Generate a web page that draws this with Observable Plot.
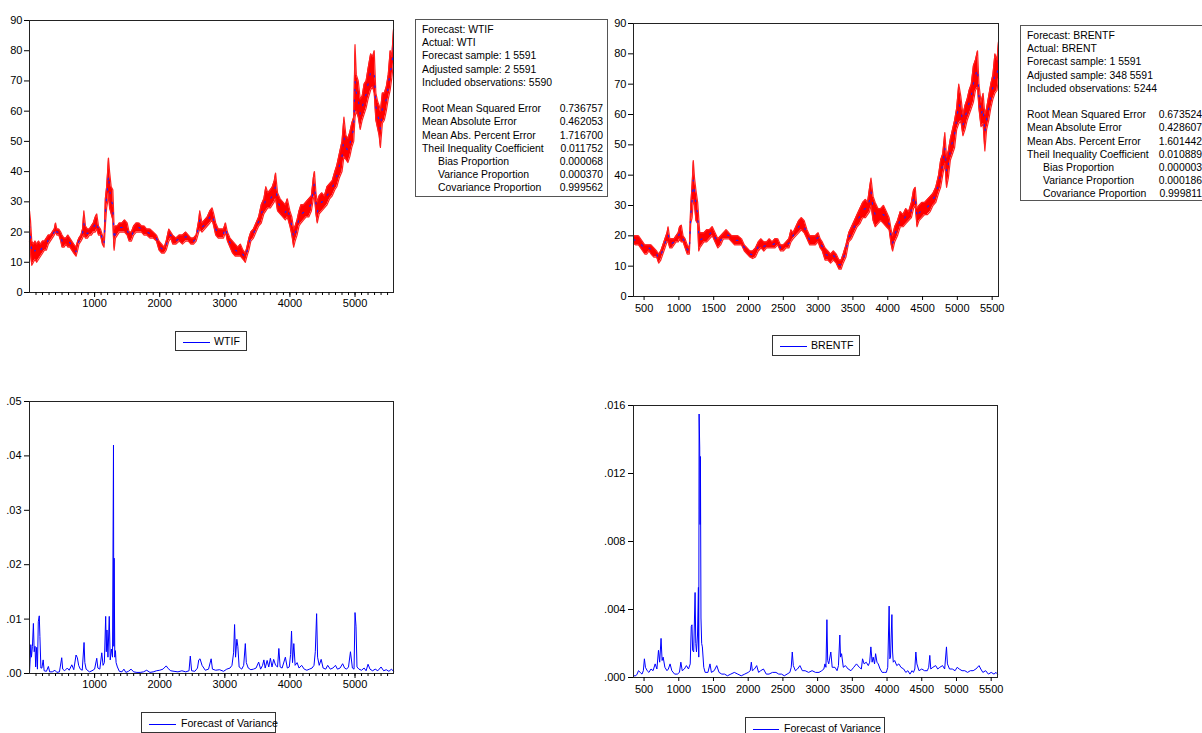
<!DOCTYPE html>
<html>
<head>
<meta charset="utf-8">
<script src="https://cdn.jsdelivr.net/npm/d3@7"></script>
<script src="https://cdn.jsdelivr.net/npm/@observablehq/plot@0.6"></script>
<style>
  html, body { margin: 0; padding: 0; background: #fff; }
  body { width: 1202px; height: 733px; overflow: hidden; position: relative; font-family: "Liberation Sans", Arial, sans-serif; color: #000; }
  .pane { position: absolute; }
  .stat { position: absolute; border: 1px solid #555; background: #fff; font-size: 10.4px; line-height: 13.2px; box-sizing: border-box; padding: 3px 0 0 6px; white-space: nowrap; }
  .stat .row { position: relative; height: 13.2px; }
  .stat .row .v { position: absolute; right: 0; top: 0; }
  .stat .ind { padding-left: 16px; }
  .legend { position: absolute; border: 1px solid #333; box-sizing: border-box; background: #fff; font-size: 10.6px; white-space: nowrap; }
  .legend .sw { position: absolute; height: 0; border-top: 1px solid #0000ff; }
  .legend .lab { position: absolute; }
</style>
</head>
<body>
<div id="p1" class="pane" style="left:0;top:0"></div>
<div id="p2" class="pane" style="left:600px;top:0"></div>
<div id="p3" class="pane" style="left:0;top:390px"></div>
<div id="p4" class="pane" style="left:600px;top:395px"></div>
<div id="s1"></div>
<div id="s2"></div>
<div id="legs"></div>
<script>
// ---------- DATA ----------
// WTI forecast band: [observation, lower, upper]
const wtiBand = [
[0,17,27],[15,13,24],[35,9,17],[60,10,16],[85,11,17],[110,10,16],[140,11,17],[170,12,16],[200,13,17],[230,14,17],
[260,14,18],[290,16,19],[320,17,19],[350,18,20],[380,19,21],[400,20,23],[420,19,21],[450,19,21],[480,17,20],[500,15,19],
[530,15,18],[560,16,18],[590,15,19],[620,15,18],[650,14,17],[680,13,16],[715,12,15],[740,14,17],[760,16,18],[790,17,19],
[815,18,21],[835,19,27],[860,18,22],[890,18,21],[920,19,21],[950,19,22],[980,20,23],[1010,20,25],[1033,21,26],[1060,19,22],
[1090,19,21],[1120,16,19],[1145,15,17],[1165,22,31],[1185,28,35],[1200,30,40],[1213,33,44.5],[1230,28,40],[1255,26,35],[1280,24,34],
[1290,18,28],[1300,14,21],[1320,18,22],[1350,19,22],[1380,20,23],[1420,20,23],[1460,20,24],[1500,19,23],[1530,17,20],[1565,17,20],
[1600,19,22],[1640,20,23],[1680,20,23],[1720,20,22],[1760,19,22],[1800,19,21],[1850,18,21],[1900,18,20],[1950,17,19],[1990,14,17],
[2030,13,16],[2070,13,15],[2100,14,17],[2140,17,21],[2170,18,20],[2200,16,19],[2250,16,18],[2300,17,19],[2350,16,19],[2400,17,20],
[2440,17,19],[2480,16,18],[2520,16,18],[2560,17,19],[2600,20,24],[2615,21,27],[2650,20,23],[2690,21,24],[2730,22,25],[2770,23,27],
[2805,24,28],[2830,22,26],[2860,19,23],[2900,18,21],[2940,18,21],[2980,18,21],[3010,20,23],[3040,17,20],[3080,15,18],[3120,13,17],
[3160,12,16],[3200,12,15],[3240,12,16],[3280,11,14],[3315,10,13],[3340,12,15],[3370,14,18],[3400,17,20],[3440,18,21],[3480,20,23],
[3520,22,25],[3560,23,29],[3600,26,31],[3630,27,35],[3660,28,33],[3700,28,34],[3730,29,35],[3760,30,37],[3780,31,39.5],[3810,27,33],
[3850,26,31],[3890,25,30],[3930,24,29],[3960,25,31],[4000,22,27],[4030,19,25],[4058,15,21],[4080,17,22],[4110,19,24],[4140,22,27],
[4170,23,29],[4210,24,29],[4250,25,30],[4290,25,31],[4330,27,32],[4360,31,38],[4377,32,40],[4400,26,33],[4420,23,30],[4450,26,32],
[4490,27,33],[4530,28,32],[4570,29,35],[4610,31,36],[4650,32,37],[4690,34,40],[4720,35,42],[4760,38,46],[4800,40,50],[4830,45,58],
[4860,44,52],[4890,43,51],[4920,45,53],[4950,48,56],[4980,50,58],[5000,58,82],[5020,60,72],[5050,58,70],[5080,54,64],[5110,57,65],
[5140,59,69],[5170,61,70],[5200,64,74],[5240,67,79],[5270,68,78],[5295,66,80],[5320,57,66],[5350,54,63],[5370,52,62],[5390,48,60],
[5420,56,66],[5450,57,66],[5480,60,68],[5510,64,72],[5540,67,80],[5565,71,78],[5591,76,87]
];
// Brent forecast band: [observation, lower, upper]
const brentBand = [
[348,17.5,20],[380,17,20],[420,17,20],[450,16,19],[480,15,18],[510,14,17],[540,14,17],[570,15,17],[600,14,17],[640,13,16],
[680,13,15],[710,11,14],[740,12,15],[770,14,17],[800,16,19],[830,18,21],[845,18,23],[870,16,19],[900,16,19],[930,17,19],
[960,18,20],[990,18,21],[1010,19,23],[1035,18,23.5],[1060,18,20],[1090,16,19],[1120,14,17],[1150,14,16],[1170,24,30],[1190,26,37],
[1207,32,44.8],[1225,30,39],[1245,25,35],[1270,24,31],[1285,15,26],[1300,16,21],[1330,17,21],[1360,18,21],[1400,18,22],[1440,19,22],
[1480,20,23],[1520,18,21],[1560,16,19],[1600,17,20],[1640,19,21],[1680,19,22],[1720,19,21],[1760,18,20],[1800,17,20],[1850,17,20],
[1900,17,19],[1940,15,17],[1980,14,16],[2020,13,15],[2060,12.5,15],[2100,13,16],[2140,15,18],[2180,16,19],[2220,15,18],[2260,16,18],
[2300,16,19],[2340,16,18],[2380,16,19],[2420,17,19],[2460,15,17],[2500,15,17],[2540,16,18],[2580,16,19],[2610,18,22],[2640,19,21],
[2680,20,23],[2720,21,25],[2760,22,26],[2800,21,25],[2840,19,22],[2880,17,20],[2920,17,20],[2960,17,20],[3000,18,21],[3030,16,19],
[3060,15,18],[3100,12,16],[3140,12,15],[3180,11,14],[3220,12,15],[3260,11,14],[3300,9,12],[3330,9,12],[3360,11,14],[3400,13,17],
[3440,18,21],[3480,19,23],[3520,21,25],[3560,23,27],[3600,24,29],[3640,26,31],[3680,26,32],[3710,27,31],[3740,28,36],[3760,30,39],
[3790,25,33],[3820,23,31],[3860,24,29],[3900,25,29],[3940,24,30],[3980,23,28],[4020,22,26],[4050,17,22],[4070,15,20],[4100,18,23],
[4140,20,25],[4180,23,28],[4220,23,27],[4260,24,29],[4300,25,28],[4340,26,31],[4370,29,35],[4395,30,36],[4420,23,29],[4450,25,30],
[4490,26,31],[4530,27,31],[4570,27,32],[4610,28,33],[4650,30,34],[4690,31,36],[4730,34,40],[4760,36,45],[4790,40,47],[4820,44,54],
[4845,36,46],[4870,39,48],[4900,45,52],[4930,47,55],[4960,49,58],[4990,55,62],[5020,57,70],[5050,58,66],[5080,53,60],[5110,55,63],
[5140,58,65],[5170,60,68],[5200,62,70],[5230,64,76],[5260,68,78],[5290,69,81],[5310,62,70],[5340,56,64],[5370,57,67],[5395,48,60],
[5420,55,62],[5450,58,66],[5480,62,70],[5510,65,73],[5540,67,80],[5570,68,78],[5591,72,84]
];
// WTI forecast of variance: [observation, value]
const wtiVar = [
[1,.0003],[10,.0025],[20,.0053],[30,.0030],[45,.0050],[60,.0092],[72,.0040],[85,.0050],[95,.0012],[110,.0048],
[122,.0008],[135,.0095],[150,.0106],[160,.0068],[175,.0010],[190,.0010],[210,.0025],[225,.0005],[260,.0004],[290,.0013],
[310,.0003],[350,.0003],[390,.0006],[420,.0002],[460,.0003],[495,.0029],[510,.0008],[540,.0005],[580,.0010],[610,.0006],
[650,.0016],[680,.0007],[715,.0034],[735,.0029],[755,.0015],[780,.0008],[810,.0006],[838,.0057],[850,.0020],[870,.0008],
[920,.0003],[960,.0005],[1000,.0008],[1033,.0028],[1050,.0010],[1080,.0008],[1110,.0038],[1130,.0015],[1150,.0020],[1170,.0105],
[1180,.0040],[1190,.0080],[1205,.0030],[1225,.0105],[1240,.0025],[1258,.0045],[1275,.0030],[1290,.0420],[1295,.0050],[1300,.0212],
[1310,.0030],[1320,.0042],[1330,.0020],[1350,.0012],[1380,.0004],[1420,.0003],[1450,.0008],[1480,.0002],[1520,.0004],[1560,.0008],
[1600,.0003],[1650,.0002],[1700,.0002],[1750,.0003],[1800,.0006],[1850,.0002],[1900,.0003],[1950,.0005],[2000,.0006],[2050,.0008],
[2100,.0014],[2130,.0009],[2170,.0005],[2220,.0004],[2280,.0003],[2340,.0005],[2400,.0003],[2450,.0005],[2470,.0032],[2490,.0005],
[2540,.0004],[2580,.0010],[2600,.0025],[2620,.0027],[2650,.0015],[2700,.0006],[2750,.0008],[2790,.0027],[2810,.0008],[2860,.0006],
[2920,.0007],[2980,.0004],[3030,.0008],[3080,.0010],[3110,.0015],[3135,.0038],[3150,.0090],[3165,.0030],[3185,.0063],[3200,.0050],
[3220,.0012],[3260,.0008],[3290,.0015],[3315,.0055],[3330,.0020],[3360,.0010],[3400,.0007],[3440,.0008],[3480,.0010],[3520,.0021],
[3550,.0008],[3580,.0015],[3600,.0025],[3620,.0010],[3650,.0024],[3675,.0012],[3700,.0028],[3725,.0012],[3750,.0026],[3780,.0015],
[3810,.0012],[3830,.0046],[3850,.0012],[3880,.0010],[3930,.0030],[3960,.0010],[3990,.0012],[4010,.0035],[4025,.0078],[4040,.0020],
[4060,.0055],[4080,.0015],[4110,.0020],[4140,.0010],[4180,.0015],[4220,.0008],[4260,.0006],[4300,.0008],[4340,.0010],[4370,.0015],
[4390,.0040],[4410,.0110],[4425,.0030],[4450,.0015],[4480,.0026],[4510,.0010],[4550,.0008],[4580,.0015],[4620,.0008],[4660,.0010],
[4700,.0015],[4730,.0008],[4770,.0010],[4810,.0018],[4840,.0010],[4870,.0008],[4900,.0012],[4930,.0040],[4960,.0010],[4985,.0008],
[5000,.0112],[5015,.0087],[5030,.0012],[5060,.0008],[5100,.0006],[5140,.0010],[5170,.0005],[5200,.0017],[5230,.0008],[5270,.0005],
[5310,.0008],[5350,.0005],[5400,.0012],[5440,.0005],[5480,.0007],[5520,.0004],[5560,.0008],[5591,.0004]
];
// Brent forecast of variance: [observation, value]
const brentVar = [
[348,.0001],[380,.0001],[400,.0002],[420,.0004],[445,.0003],[470,.0002],[490,.0004],[505,.0011],[520,.0006],[545,.0004],
[570,.0003],[600,.0005],[630,.0004],[660,.0008],[685,.0005],[708,.0016],[725,.0009],[745,.0023],[760,.0010],[775,.0012],
[800,.0006],[830,.0004],[850,.0005],[875,.0008],[900,.0004],[940,.0002],[980,.0002],[1010,.0003],[1030,.0009],[1050,.0004],
[1080,.0005],[1110,.0007],[1140,.0005],[1165,.0008],[1180,.0030],[1190,.0031],[1200,.0016],[1215,.0015],[1235,.0050],[1245,.0020],
[1255,.0015],[1270,.0025],[1283,.0053],[1288,.0012],[1293,.0155],[1302,.0135],[1307,.0090],[1312,.0130],[1320,.0035],[1330,.0020],
[1340,.0018],[1360,.0006],[1380,.0003],[1420,.0003],[1450,.0008],[1470,.0003],[1510,.0004],[1547,.0007],[1580,.0003],[1620,.0002],
[1660,.0002],[1700,.0001],[1750,.0002],[1800,.0003],[1850,.0002],[1900,.0001],[1950,.0002],[2000,.0003],[2030,.0004],[2045,.0009],
[2060,.0004],[2090,.0005],[2122,.0007],[2150,.0003],[2180,.0004],[2220,.0005],[2260,.0002],[2300,.0002],[2350,.0003],[2400,.0003],
[2440,.0002],[2480,.0002],[2520,.0001],[2560,.0002],[2600,.0003],[2620,.0006],[2635,.0015],[2650,.0007],[2680,.0004],[2710,.0005],
[2745,.0007],[2780,.0004],[2820,.0004],[2870,.0003],[2920,.0004],[2970,.0003],[3020,.0003],[3060,.0004],[3090,.0005],[3105,.0008],
[3120,.0006],[3134,.0034],[3145,.0010],[3160,.0008],[3190,.0015],[3210,.0006],[3250,.0006],[3280,.0004],[3300,.0007],[3320,.0025],
[3330,.0012],[3345,.0014],[3370,.0006],[3400,.0007],[3440,.0005],[3480,.0004],[3520,.0006],[3560,.0008],[3600,.0006],[3630,.0005],
[3647,.0011],[3670,.0008],[3700,.0009],[3730,.0007],[3750,.0009],[3767,.0018],[3785,.0009],[3800,.0012],[3820,.0008],[3835,.0014],
[3855,.0009],[3873,.0008],[3900,.0005],[3930,.0003],[3960,.0003],[3990,.0003],[4010,.0006],[4030,.0042],[4040,.0011],[4050,.0012],
[4070,.0037],[4080,.0015],[4090,.0009],[4110,.0010],[4140,.0007],[4170,.0008],[4200,.0006],[4240,.0005],[4270,.0003],[4300,.0004],
[4330,.0002],[4360,.0004],[4380,.0003],[4400,.0005],[4415,.0015],[4430,.0008],[4460,.0004],[4500,.0005],[4540,.0004],[4580,.0004],
[4600,.0006],[4616,.0013],[4630,.0005],[4660,.0006],[4700,.0007],[4730,.0005],[4760,.0006],[4800,.0007],[4830,.0005],[4856,.0018],
[4870,.0008],[4900,.0005],[4940,.0005],[4980,.0004],[5010,.0006],[5040,.0005],[5080,.0004],[5120,.0004],[5160,.0003],[5200,.0004],
[5240,.0004],[5280,.0005],[5325,.0007],[5350,.0005],[5380,.0003],[5420,.0004],[5460,.0002],[5500,.0003],[5540,.0002],[5570,.0003],
[5591,.0002]
];
// Tick values
const wtiPriceTicks = [0,10,20,30,40,50,60,70,80,90];
const wtiXMajor = [1000,2000,3000,4000,5000];
const brentXTicks = [500,1000,1500,2000,2500,3000,3500,4000,4500,5000,5500];
const wtiVarTicks = [0,.01,.02,.03,.04,.05];
const brentVarTicks = [0,.004,.008,.012,.016];
// Stat tables
const wtiHeader = ["Forecast: WTIF","Actual: WTI","Forecast sample: 1 5591","Adjusted sample: 2 5591","Included observations: 5590"];
const brentHeader = ["Forecast: BRENTF","Actual: BRENT","Forecast sample: 1 5591","Adjusted sample: 348 5591","Included observations: 5244"];
const statNames = ["Root Mean Squared Error","Mean Absolute Error","Mean Abs. Percent Error","Theil Inequality Coefficient","Bias Proportion","Variance Proportion","Covariance Proportion"];
const wtiStats = ["0.736757","0.462053","1.716700","0.011752","0.000068","0.000370","0.999562"];
const brentStats = ["0.673524","0.428607","1.601442","0.010889","0.000003","0.000186","0.999811"];

// ---------- DRAWING ----------
const FONT = {fontFamily: "'Liberation Sans', Arial, sans-serif", fontSize: "11px", color: "#000", background: "transparent", overflow: "visible"};
const minor = d3.range(100, 5600, 100);
const fmtInt = d3.format("d");
const noLead = f => d => d3.format(f)(d).replace(/^0\./, ".");

function bandPanel(data, opts) {
  return Plot.plot({
    width: opts.w, height: opts.h,
    marginLeft: opts.ml, marginRight: opts.mr, marginTop: opts.mt, marginBottom: opts.mb,
    style: FONT,
    x: {domain: opts.xd},
    y: {domain: [0, 90]},
    marks: [
      Plot.areaY(data, {x: d => d[0], y1: d => d[1], y2: d => d[2], fill: "#ff0000", curve: "linear"}),
      Plot.line(data, {x: d => d[0], y: d => d[1], stroke: "#ff2020", strokeWidth: 1.2}),
      Plot.line(data, {x: d => d[0], y: d => d[2], stroke: "#ff2020", strokeWidth: 1.2}),
      Plot.line(data, {x: d => d[0], y: d => (d[1] + d[2]) / 2, stroke: "#2020ff", strokeWidth: 1.2, strokeDasharray: "1.5,9"}),
      Plot.frame({stroke: "#222"}),
      Plot.axisY({ticks: wtiPriceTicks, tickSize: 5, tickPadding: opts.yp, tickFormat: fmtInt}),
      ...opts.xaxes
    ]
  });
}

function varPanel(data, opts) {
  return Plot.plot({
    width: opts.w, height: opts.h,
    marginLeft: opts.ml, marginRight: opts.mr, marginTop: opts.mt, marginBottom: opts.mb,
    style: FONT,
    x: {domain: opts.xd},
    y: {domain: opts.yd},
    marks: [
      Plot.line(data, {x: d => d[0], y: d => d[1], stroke: "#0000ff", strokeWidth: 1}),
      Plot.frame({stroke: "#222"}),
      Plot.axisY({ticks: opts.yt, tickSize: 5, tickPadding: opts.yp, tickFormat: opts.yf}),
      ...opts.xaxes
    ]
  });
}

const wtiXAxes = [
  Plot.axisX({ticks: minor, tickSize: 3, tickFormat: () => ""}),
  Plot.axisX({ticks: wtiXMajor, tickSize: 5, tickPadding: 2, tickFormat: fmtInt})
];
const brentXAxes = (pad) => [
  Plot.axisX({ticks: brentXTicks, tickSize: 4, tickPadding: pad, tickFormat: fmtInt})
];

document.getElementById("p1").append(bandPanel(wtiBand, {w: 410, h: 320, ml: 29, mr: 17, mt: 20, mb: 28, xd: [0, 5591], yp: 2, xaxes: wtiXAxes}));
document.getElementById("p2").append(bandPanel(brentBand, {w: 420, h: 330, ml: 33, mr: 22, mt: 23, mb: 34, xd: [348, 5591], yp: 2, xaxes: brentXAxes(4)}));
document.getElementById("p3").append(varPanel(wtiVar, {w: 410, h: 310, ml: 29, mr: 17, mt: 11, mb: 27, xd: [0, 5591], yd: [0, .05], yt: wtiVarTicks, yf: noLead(".2f"), yp: 3, xaxes: wtiXAxes}));
document.getElementById("p4").append(varPanel(brentVar, {w: 420, h: 310, ml: 33, mr: 23, mt: 10, mb: 28, xd: [348, 5591], yd: [0, .016], yt: brentVarTicks, yf: noLead(".3f"), yp: 3, xaxes: brentXAxes(4)}));

// Stat boxes
function statBox(id, left, top, width, height, header, values) {
  const el = document.getElementById(id);
  el.className = "stat";
  Object.assign(el.style, {left: left + "px", top: top + "px", width: width + "px", height: height + "px"});
  const rows = [];
  header.forEach(h => rows.push(`<div class="row">${h}</div>`));
  rows.push(`<div class="row"></div>`);
  statNames.forEach((n, i) => rows.push(`<div class="row" style="width:${width - 12}px"><span class="${i >= 4 ? "ind" : ""}">${n}</span><span class="v">${values[i]}</span></div>`));
  el.innerHTML = rows.join("");
}
statBox("s1", 415, 19, 193, 178, wtiHeader, wtiStats);
statBox("s2", 1020, 25, 187, 176, brentHeader, brentStats);

// Legends
const legends = [
  {l: 175, t: 331, w: 72, h: 20, sx: 7, sw: 27, sy: 10, tx: 38, label: "WTIF"},
  {l: 772, t: 335, w: 88, h: 21, sx: 7, sw: 27, sy: 10, tx: 38, label: "BRENTF"},
  {l: 141, t: 712, w: 135, h: 21, sx: 7, sw: 27, sy: 11, tx: 39, label: "Forecast of Variance"},
  {l: 745, t: 717, w: 140, h: 24, sx: 7, sw: 26, sy: 11, tx: 38, label: "Forecast of Variance"}
];
const lg = document.getElementById("legs");
legends.forEach(d => {
  const b = document.createElement("div");
  b.className = "legend";
  Object.assign(b.style, {left: d.l + "px", top: d.t + "px", width: d.w + "px", height: d.h + "px"});
  b.innerHTML = `<div class="sw" style="left:${d.sx}px;top:${d.sy}px;width:${d.sw}px"></div><div class="lab" style="left:${d.tx}px;top:${d.sy - 7}px">${d.label}</div>`;
  lg.append(b);
});
</script>
</body>
</html>
